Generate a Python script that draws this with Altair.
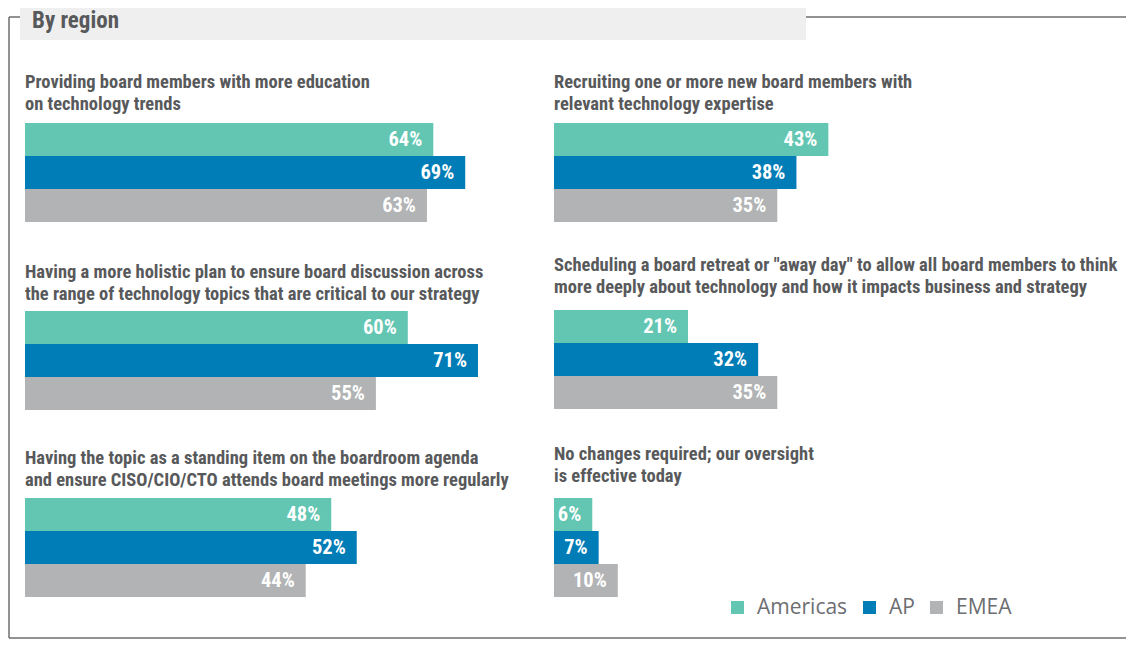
import altair as alt
import pandas as pd

# ---- data ----
titles = [
    ["Providing board members with more education", "on technology trends"],
    ["Recruiting one or more new board members with", "relevant technology expertise"],
    ["Having a more holistic plan to ensure board discussion across",
     "the range of technology topics that are critical to our strategy"],
    ["Scheduling a board retreat or \"away day\" to allow all board members to think",
     "more deeply about technology and how it impacts business and strategy"],
    ["Having the topic as a standing item on the boardroom agenda",
     "and ensure CISO/CIO/CTO attends board meetings more regularly"],
    ["No changes required; our oversight", "is effective today"],
]
regions = ["Americas", "AP", "EMEA"]
americas = [64, 43, 60, 21, 48, 6]
ap = [69, 38, 71, 32, 52, 7]
emea = [63, 35, 55, 35, 44, 10]
colors = ["#62c6b2", "#007cb6", "#b1b3b4"]
header = "By region"

# ---- layout (reference pixel coords, page offset 8) ----
OFF = 8
W, H = 1118, 631
PX_PER_PCT = 6.38
panel_x = [25, 554, 25, 554, 25, 554]
panel_top = [123, 123, 311, 310, 498, 498]
panel_title_base = [88, 88, 278, 271, 464, 460]
BAR_H = 99
TITLE_LH = 22
TXT = "#58595b"
FONT_C = "Liberation Sans Narrow, Roboto Condensed, Open Sans Condensed, Open Sans"

rows = []
for i in range(6):
    for r, vals in zip(regions, [americas, ap, emea]):
        rows.append({"panel": i, "region": r, "value": vals[i], "label": f"{vals[i]}%"})
df = pd.DataFrame(rows)

layers = []

# header box and frame
frame_col = "#6d6e71"
layers.append(alt.Chart(pd.DataFrame({"a": [0]})).mark_rect(color="#efefef").encode(
    x=alt.value(20 - OFF), x2=alt.value(806 - OFF), y=alt.value(0), y2=alt.value(40 - OFF)))
for (xa, xb, ya, yb) in [(1, 20 - OFF, 17 - OFF, 17 - OFF),
                         (806 - OFF, W, 17 - OFF, 17 - OFF),
                         (1, 1, 17 - OFF, H - 1),
                         (1, W, H - 1, H - 1)]:
    layers.append(alt.Chart(pd.DataFrame({"a": [0]})).mark_rule(color=frame_col, strokeWidth=1.5).encode(
        x=alt.value(xa), x2=alt.value(xb), y=alt.value(ya), y2=alt.value(yb)))
layers.append(alt.Chart(pd.DataFrame({"a": [0]})).mark_text(
    text=header, font=FONT_C, fontWeight="bold", fontSize=23, color=TXT, align="left",
    baseline="middle").encode(x=alt.value(32 - OFF), y=alt.value(13)))

for i in range(6):
    x0 = panel_x[i] - OFF
    y0 = panel_top[i] - OFF
    xs = alt.Scale(domain=[0, 100], range=[x0, x0 + 100 * PX_PER_PCT])
    ys = alt.Scale(domain=regions, range=[y0, y0 + BAR_H], paddingInner=0, paddingOuter=0)
    base = alt.Chart(df).transform_filter(alt.datum.panel == i)
    bars = base.mark_bar().encode(
        x=alt.X("value:Q", scale=xs, axis=None),
        y=alt.Y("region:N", scale=ys, axis=None),
        color=alt.Color("region:N", scale=alt.Scale(domain=regions, range=colors),
                        legend=alt.Legend(title=None, orient="none", direction="horizontal",
                                          legendX=719, legendY=589, symbolType="square",
                                          symbolSize=169, symbolStrokeWidth=0,
                                          labelFont="Open Sans", labelFontSize=21,
                                          labelColor="#6d6e71", labelOffset=9,
                                          columnPadding=11, gridAlign="none")),
    )
    labels = base.mark_text(align="right", baseline="middle", dx=-11, font=FONT_C,
                            fontWeight="bold", fontSize=20.5, color="white").encode(
        x=alt.X("value:Q", scale=xs, axis=None),
        y=alt.Y("region:N", scale=ys, axis=None),
        text="label:N",
    )
    title = alt.Chart(pd.DataFrame({"a": [0]})).mark_text(
        text=titles[i], font=FONT_C, fontWeight="bold", fontSize=18.5, color=TXT,
        align="left", baseline="alphabetic", lineHeight=TITLE_LH).encode(
        x=alt.value(x0), y=alt.value(panel_title_base[i] - OFF))
    layers += [bars, labels, title]

chart = alt.layer(*layers).resolve_scale(x="independent", y="independent").properties(
    width=W, height=H, autosize=alt.AutoSizeParams(type="none"), padding=0
).configure_view(stroke=None)

chart.save("out.html", embed_options={"renderer": "svg", "actions": False})
